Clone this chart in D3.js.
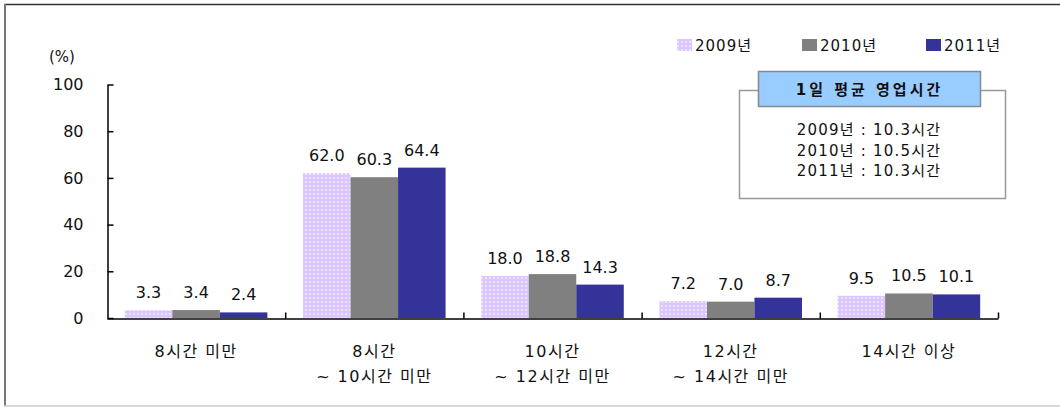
<!DOCTYPE html>
<html><head><meta charset="utf-8">
<script src="https://cdn.jsdelivr.net/npm/d3@7"></script>
<style>body{margin:0;background:#fff}svg{display:block}</style>
</head><body>
<script>
const categories = [["8시간 미만"], ["8시간", "~ 10시간 미만"], ["10시간", "~ 12시간 미만"], ["12시간", "~ 14시간 미만"], ["14시간 이상"]];
const seriesNames = ["2009년", "2010년", "2011년"];
const v2009 = [3.3, 62.0, 18.0, 7.2, 9.5];
const v2010 = [3.4, 60.3, 18.8, 7.0, 10.5];
const v2011 = [2.4, 64.4, 14.3, 8.7, 10.1];
const yTicks = [0, 20, 40, 60, 80, 100];
const boxTitle = "1일 평균 영업시간";
const boxLines = ["2009년 : 10.3시간", "2010년 : 10.5시간", "2011년 : 10.3시간"];

const W = 1060, H = 407;
const font = "'DejaVu Sans', 'Noto Sans CJK KR', sans-serif";
const svg = d3.select("body").append("svg").attr("width", W).attr("height", H);
const defs = svg.append("defs");
const pat = defs.append("pattern").attr("id", "dots").attr("patternUnits", "userSpaceOnUse").attr("width", 4).attr("height", 4);
pat.append("rect").attr("width", 4).attr("height", 4).attr("fill", "#dcc6ff");
pat.append("rect").attr("x", 1).attr("y", 1).attr("width", 2).attr("height", 2).attr("fill", "#efe4ff");
const colors = ["url(#dots)", "#808080", "#333399"];

// frame
svg.append("line").attr("x1", 4).attr("x2", W).attr("y1", 4.5).attr("y2", 4.5).attr("stroke", "#333").attr("stroke-width", 1.5);
svg.append("line").attr("x1", 5).attr("x2", 5).attr("y1", 4).attr("y2", 406).attr("stroke", "#777").attr("stroke-width", 2);
svg.append("line").attr("x1", 4).attr("x2", W).attr("y1", 406).attr("y2", 406).attr("stroke", "#ccc").attr("stroke-width", 1.5);

const x0 = d3.scaleBand().domain(d3.range(categories.length)).range([107, 998]).paddingInner(0).paddingOuter(0);
const groupPad = 0.1;
const x1 = d3.scaleBand().domain(d3.range(3)).range([x0.bandwidth() * groupPad, x0.bandwidth() * (1 - groupPad)]);
const y = d3.scaleLinear().domain([0, 100]).range([318, 84.5]);

const data = [v2009, v2010, v2011];
const g = svg.append("g");
categories.forEach((c, i) => {
  data.forEach((vals, s) => {
    const bx = x0(i) + x1(s);
    g.append("rect").attr("x", bx).attr("y", y(vals[i])).attr("width", x1.bandwidth()).attr("height", y(0) - y(vals[i])).attr("fill", colors[s]);
    g.append("text").attr("x", bx + x1.bandwidth() / 2).attr("y", y(vals[i]) - 12).attr("text-anchor", "middle")
      .attr("font-family", font).attr("font-size", 16).attr("fill", "#111").text(vals[i].toFixed(1));
  });
});

// y axis
const yAxis = d3.axisLeft(y).tickValues(yTicks).tickSize(-6).tickPadding(24).tickSizeOuter(0);
const ya = svg.append("g").attr("transform", "translate(107.5,0)").call(yAxis);
ya.selectAll("path,line").attr("stroke", "#000").attr("stroke-width", 1.5);
ya.selectAll("text").attr("font-family", font).attr("font-size", 16).attr("fill", "#111");
svg.append("text").attr("x", 62).attr("y", 62).attr("text-anchor", "middle").attr("font-family", font).attr("font-size", 15).attr("fill", "#111").text("(%)");

// x axis
const xb = d3.scaleLinear().domain([0, categories.length]).range([107, 998]);
const xa = svg.append("g").attr("transform", "translate(0,318.5)").call(d3.axisBottom(xb).tickValues(d3.range(1, categories.length + 1)).tickSize(-6).tickSizeOuter(0).tickFormat(""));
xa.selectAll("path,line").attr("stroke", "#000").attr("stroke-width", 1.5);
categories.forEach((c, i) => {
  const t = svg.append("text").attr("text-anchor", "middle").attr("font-family", font).attr("font-size", 16).attr("letter-spacing", 1.5).attr("fill", "#111");
  c.forEach((line, k) => t.append("tspan").attr("x", x0(i) + x0.bandwidth() / 2).attr("y", 357 + k * 25).text(line));
});

// legend
const legX = [677, 802, 926];
seriesNames.forEach((n, s) => {
  svg.append("rect").attr("x", legX[s]).attr("y", 39).attr("width", 15).attr("height", 12).attr("fill", colors[s]);
  svg.append("text").attr("x", legX[s] + 18).attr("y", 51).attr("font-family", font).attr("font-size", 15).attr("letter-spacing", 1).attr("fill", "#111").text(n);
});

// info box
svg.append("rect").attr("x", 739.5).attr("y", 90.5).attr("width", 266).attr("height", 108).attr("fill", "#fff").attr("stroke", "#999").attr("stroke-width", 1.5);
svg.append("rect").attr("x", 758.5).attr("y", 71.5).attr("width", 222).attr("height", 35).attr("fill", "#99ccff").attr("stroke", "#888").attr("stroke-width", 1.5);
svg.append("text").attr("x", 869.5).attr("y", 95).attr("text-anchor", "middle").attr("font-family", font).attr("font-size", 15).attr("font-weight", "bold").attr("letter-spacing", 3).attr("fill", "#111").text(boxTitle);
boxLines.forEach((l, k) => {
  svg.append("text").attr("x", 869).attr("y", 135 + k * 20.5).attr("text-anchor", "middle").attr("font-family", font).attr("font-size", 15).attr("letter-spacing", 1.2).attr("fill", "#111").text(l);
});
</script>
</body></html>
